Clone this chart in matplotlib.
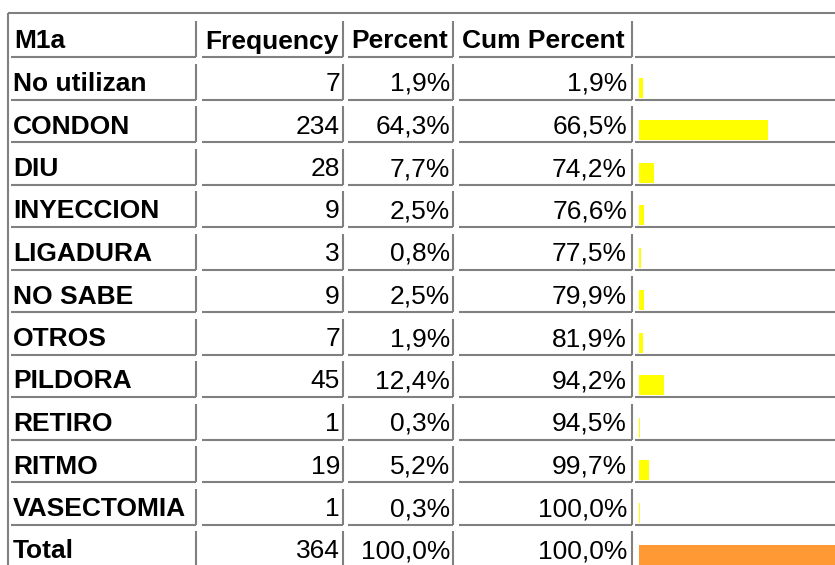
import matplotlib
matplotlib.use("Agg")
from matplotlib import pyplot as plt

# Table data
header = ["M1a", "Frequency", "Percent", "Cum Percent"]
categories = ["No utilizan", "CONDON", "DIU", "INYECCION", "LIGADURA", "NO SABE",
              "OTROS", "PILDORA", "RETIRO", "RITMO", "VASECTOMIA", "Total"]
frequency = [7, 234, 28, 9, 3, 9, 7, 45, 1, 19, 1, 364]
percent = [1.9, 64.3, 7.7, 2.5, 0.8, 2.5, 1.9, 12.4, 0.3, 5.2, 0.3, 100.0]
cum_percent = [1.9, 66.5, 74.2, 76.6, 77.5, 79.9, 81.9, 94.2, 94.5, 99.7, 100.0, 100.0]

plt.rcParams['font.family'] = ['Liberation Sans', 'DejaVu Sans']
border = '#808080'
fs = 19

fig = plt.figure(figsize=(8.35, 5.65), dpi=100)
ax = fig.add_axes([0, 0, 1, 1])
ax.set_xlim(0, 835)
ax.set_ylim(565, 0)
ax.axis('off')

# column cell extents (left, right border)
cols = [(11, 196), (202, 343), (348, 453), (459, 632), (635, 840)]
row_top0, row_h, pitch = 21, 36, 42.5

def fmt(v):
    return f"{v:.1f}%".replace('.', ',')

# outer border
ax.plot([8, 840], [13, 13], color=border, lw=1.5, solid_capstyle='butt')
ax.plot([8, 8], [13, 570], color=border, lw=1.5, solid_capstyle='butt')

n_rows = len(categories) + 1
for i in range(n_rows):
    top = row_top0 + pitch * i
    bot = top + row_h
    for (l, r) in cols:
        ax.plot([l, r], [bot, bot], color=border, lw=1.5, solid_capstyle='butt')
        ax.plot([r, r], [top, bot], color=border, lw=1.5, solid_capstyle='butt')
    base = (top + bot) / 2 + 9.5
    if i == 0:
        for j, h in enumerate(header):
            ax.text(cols[j][0] + 3, base, h, fontsize=fs, fontweight='bold',
                    ha='left', va='baseline')
        continue
    k = i - 1
    ax.text(cols[0][0] + 2, base, categories[k], fontsize=fs, fontweight='bold',
            ha='left', va='baseline')
    ax.text(cols[1][1] - 3, base, str(frequency[k]), fontsize=fs, ha='right', va='baseline')
    ax.text(cols[2][1] - 3, base, fmt(percent[k]), fontsize=fs, ha='right', va='baseline')
    ax.text(cols[3][1] - 5, base, fmt(cum_percent[k]), fontsize=fs, ha='right', va='baseline')
    color = '#FF9933' if categories[k] == 'Total' else '#FFFF00'
    ax.barh(bot - 12, percent[k] * 2, height=20, left=639, color=color)

fig.savefig('out.png', dpi=100)
